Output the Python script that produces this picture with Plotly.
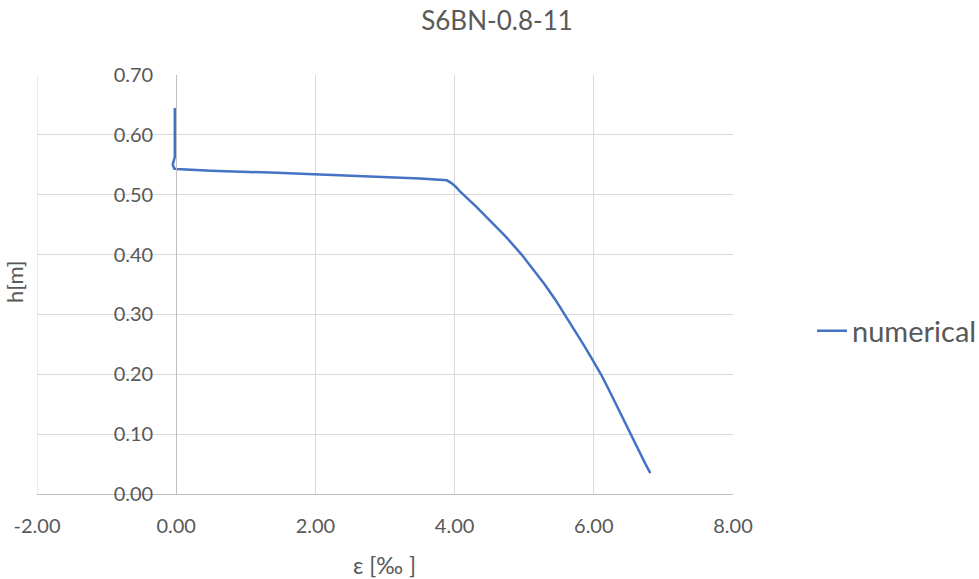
import plotly.graph_objects as go

# Strain profile over the section height
strain_permille = [-0.02, -0.02, -0.02, -0.05, -0.03, 0.00, 0.50, 1.35, 2.00, 2.93,
                   3.50, 3.89, 3.96, 4.02, 4.08, 4.31, 4.53, 4.735, 4.963, 5.135,
                   5.295, 5.445, 5.583, 5.718, 5.850, 5.978, 6.103, 6.213, 6.318, 6.423,
                   6.523, 6.633, 6.743, 6.812]
height_m = [0.645, 0.600, 0.563, 0.550, 0.544, 0.543, 0.540, 0.537, 0.534, 0.530,
            0.527, 0.524, 0.519, 0.513, 0.505, 0.480, 0.455, 0.430, 0.400, 0.375,
            0.350, 0.325, 0.300, 0.275, 0.250, 0.225, 0.200, 0.175, 0.150, 0.125,
            0.100, 0.075, 0.050, 0.035]

x_ticks = [-2, 0, 2, 4, 6, 8]
x_tick_labels = ["-2.00", "0.00", "2.00", "4.00", "6.00", "8.00"]
y_ticks = [0.0, 0.1, 0.2, 0.3, 0.4, 0.5, 0.6, 0.7]
y_tick_labels = ["0.00", "0.10", "0.20", "0.30", "0.40", "0.50", "0.60", "0.70"]

FONT = "Lato"
TEXT = "#595959"
GRID = "#d9d9d9"
AXIS = "#bfbfbf"

W, H = 979, 579
ML, MR, MT, MB = 37, 246, 75, 85
PW, PH = W - ML - MR, H - MT - MB
x_range = [-2, 8]
y_range = [0, 0.7]

fig = go.Figure()
fig.add_trace(go.Scatter(
    x=strain_permille, y=height_m, mode="lines", name="numerical",
    line=dict(color="#4472C4", width=2.5),
))

# vertical axis crosses the horizontal one at strain = 0
y_axis_pos = (0 - x_range[0]) / (x_range[1] - x_range[0])

fig.update_layout(
    width=W, height=H,
    margin=dict(l=ML, r=MR, t=MT, b=MB, autoexpand=False),
    paper_bgcolor="white", plot_bgcolor="white",
    font=dict(family=FONT, color=TEXT, size=20),
    title=dict(text="S6BN-0.8-11", x=497 / W, xanchor="center",
               y=1 - 21 / H, yanchor="middle",
               font=dict(family=FONT, size=26, color=TEXT)),
    xaxis=dict(range=x_range, tickvals=x_ticks, ticktext=x_tick_labels,
               showgrid=True, gridcolor=GRID, gridwidth=1,
               zeroline=False, showline=True, linecolor=AXIS, linewidth=1,
               ticks="", ticklabelstandoff=14, automargin=False,
               tickfont=dict(family=FONT, size=20, color=TEXT)),
    yaxis=dict(range=y_range, tickvals=y_ticks, ticktext=y_tick_labels,
               anchor="free", position=y_axis_pos,
               showgrid=True, gridcolor=GRID, gridwidth=1,
               zeroline=False, showline=True, linecolor=AXIS, linewidth=1,
               ticks="", ticklabelstandoff=19, automargin=False,
               tickfont=dict(family=FONT, size=20, color=TEXT)),
    showlegend=True,
    legend=dict(x=(812 - ML) / PW, y=(494 - 331) / PH,
                xanchor="left", yanchor="middle",
                font=dict(family=FONT, size=29, color=TEXT),
                bgcolor="rgba(0,0,0,0)"),
    # gridline on the left edge of the plot area
    shapes=[dict(type="line", xref="x", yref="y", layer="below",
                 x0=x_range[0], x1=x_range[0], y0=y_range[0], y1=y_range[1],
                 line=dict(color=GRID, width=1))],
    annotations=[
        dict(text="ε [‰ ]", xref="paper", yref="paper",
             x=(384 - ML) / PW, y=(494 - 565) / PH,
             xanchor="center", yanchor="middle", showarrow=False,
             font=dict(family=FONT, size=23, color=TEXT)),
        dict(text="h[m]", xref="paper", yref="paper", textangle=-90,
             x=(14 - ML) / PW, y=(494 - 282) / PH,
             xanchor="center", yanchor="middle", showarrow=False,
             font=dict(family=FONT, size=22, color=TEXT)),
    ],
)

fig.write_html("out.html")
